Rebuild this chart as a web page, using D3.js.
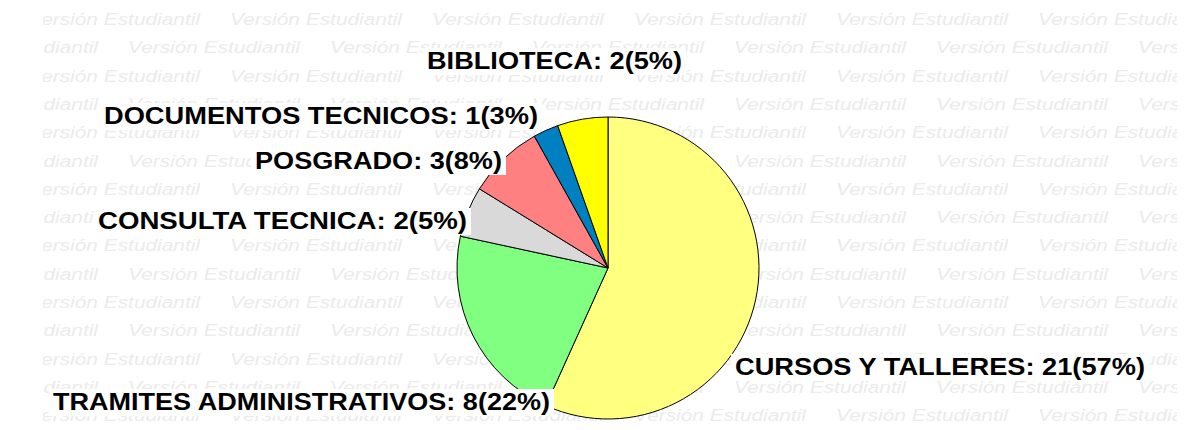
<!DOCTYPE html>
<html>
<head>
<meta charset="utf-8">
<script src="https://cdn.jsdelivr.net/npm/d3@7"></script>
<style>
  html, body { margin: 0; padding: 0; background: #fff; }
  svg { display: block; }
</style>
</head>
<body>
<svg id="chart" width="1185" height="430"></svg>
<script>
// ---- data ----
const categories = ["CURSOS Y TALLERES", "TRAMITES ADMINISTRATIVOS", "CONSULTA TECNICA", "POSGRADO", "DOCUMENTOS TECNICOS", "BIBLIOTECA"];
const values = [21, 8, 2, 3, 1, 2];
const colors = ["#FFFF80", "#80FF80", "#D9D9D9", "#FF8080", "#0080C0", "#FFFF00"];
const watermarkText = "Versión Estudiantil";

// ---- layout (label anchors: left x, baseline y, rendered width) ----
const labelX = [735, 53, 98, 255, 104, 427];
const labelY = [375, 410, 229, 169, 124, 69];
const labelW = [410, 497, 369, 247, 434, 255];

const W = 1185, H = 430;
const cx = 608, cy = 268, R = 151;

const svg = d3.select("#chart");

// watermark
const defs = svg.append("defs");
defs.append("clipPath").attr("id", "wmclip")
  .append("rect").attr("x", 43).attr("y", 0).attr("width", 1134).attr("height", H);
const wm = svg.append("g").attr("clip-path", "url(#wmclip)");
const rowStep = 28.3, colStep = 202;
for (let r = 0; r < 15; r++) {
  const y = 25 + r * rowStep;
  const x0 = (r % 2 === 0) ? 28 : 128;
  for (let x = x0 - colStep; x < W; x += colStep) {
    wm.append("text")
      .attr("x", x).attr("y", y)
      .attr("textLength", 172).attr("lengthAdjust", "spacingAndGlyphs")
      .style("font-family", "'Liberation Sans', Arial, sans-serif")
      .style("font-style", "italic")
      .style("font-size", "16px")
      .style("fill", "#ebebeb")
      .text(watermarkText);
  }
}

// pie
const total = d3.sum(values);
const pie = d3.pie().sort(null).value(d => d)(values);
const arc = d3.arc().innerRadius(0).outerRadius(R);
const color = d3.scaleOrdinal().domain(categories).range(colors);

svg.append("g").attr("transform", `translate(${cx},${cy})`)
  .selectAll("path").data(pie).join("path")
  .attr("d", arc)
  .attr("fill", (d, i) => color(categories[i]))
  .attr("stroke", "#000")
  .attr("stroke-width", 1);

// labels
const lg = svg.append("g");
categories.forEach((c, i) => {
  const pct = Math.round(values[i] / total * 100);
  const txt = `${c}: ${values[i]}(${pct}%)`;
  lg.append("rect")
    .attr("x", labelX[i] - 4).attr("y", labelY[i] - 21)
    .attr("width", labelW[i] + 8).attr("height", 27)
    .attr("fill", "#fff");
  lg.append("text")
    .attr("x", labelX[i]).attr("y", labelY[i])
    .attr("textLength", labelW[i]).attr("lengthAdjust", "spacingAndGlyphs")
    .style("font-family", "'Liberation Sans', Arial, sans-serif")
    .style("font-weight", "bold")
    .style("font-size", "23px")
    .style("fill", "#000")
    .text(txt);
});
</script>
</body>
</html>
